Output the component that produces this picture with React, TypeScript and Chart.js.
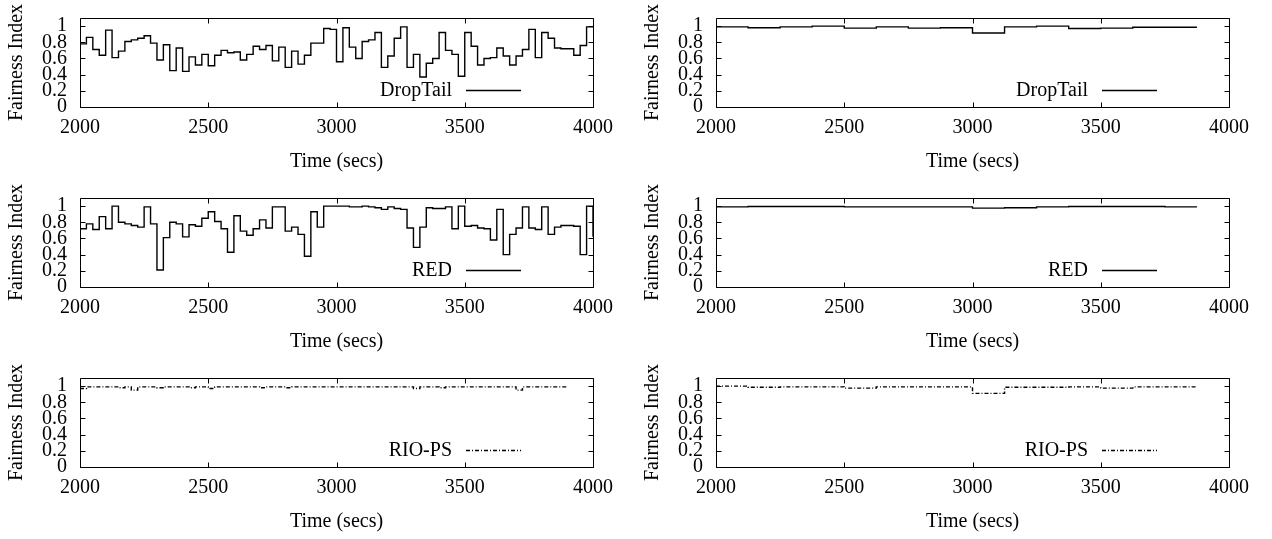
import React, { useEffect, useRef } from 'react';
import { Chart, registerables } from 'chart.js';

Chart.register(...registerables);

// ---- axes ----
const X_MIN = 2000;
const X_MAX = 4000;
const X_TICKS = [2000, 2500, 3000, 3500, 4000];
const Y_MIN = 0;
const Y_MAX = 1.1;
const Y_TICKS = [0, 0.2, 0.4, 0.6, 0.8, 1];
const X_TITLE = 'Time (secs)';
const Y_TITLE = 'Fairness Index';

// ---- sampling (seconds) ----
const LEFT_START = 2000;
const LEFT_STEP = 25;
const RIGHT_START = 2000;
const RIGHT_STEP = 125;

// ---- left column series (one value every 25 s) ----
const DROPTAIL_LEFT = [
  0.78, 0.86, 0.71, 0.64, 0.95, 0.61, 0.69, 0.81, 0.83, 0.85,
  0.88, 0.79, 0.58, 0.77, 0.45, 0.73, 0.44, 0.62, 0.52, 0.65,
  0.51, 0.64, 0.70, 0.67, 0.68, 0.58, 0.65, 0.75, 0.71, 0.76,
  0.57, 0.74, 0.49, 0.69, 0.53, 0.64, 0.79, 0.79, 0.97, 0.96,
  0.56, 0.98, 0.74, 0.60, 0.81, 0.83, 0.92, 0.49, 0.63, 0.85,
  0.99, 0.49, 0.65, 0.37, 0.54, 0.60, 0.92, 0.70, 0.65, 0.38,
  0.92, 0.75, 0.52, 0.60, 0.61, 0.73, 0.63, 0.52, 0.63, 0.71,
  0.96, 0.61, 0.92, 0.85, 0.73, 0.72, 0.72, 0.64, 0.76, 0.99,
  0.99,
];
const RED_LEFT = [
  0.72, 0.78, 0.71, 0.87, 0.72, 1.0, 0.80, 0.78, 0.76, 0.74,
  0.99, 0.78, 0.21, 0.61, 0.80, 0.78, 0.62, 0.77, 0.75, 0.85,
  0.93, 0.81, 0.72, 0.43, 0.88, 0.69, 0.64, 0.72, 0.83, 0.73,
  0.99, 0.99, 0.69, 0.74, 0.65, 0.38, 0.93, 0.74, 1.0, 1.0,
  1.0, 1.0, 0.99, 0.99, 1.0, 0.99, 0.98, 0.96, 0.99, 0.97,
  0.96, 0.73, 0.49, 0.74, 0.98, 0.97, 0.97, 0.99, 0.72, 1.0,
  0.75, 0.76, 0.73, 0.72, 0.58, 0.96, 0.40, 0.65, 0.73, 0.99,
  0.73, 0.71, 0.99, 0.65, 0.74, 0.76, 0.76, 0.75, 0.40, 1.0,
  0.62,
];
const RIOPS_LEFT = [
  0.97, 0.99, 0.99, 0.99, 0.99, 0.99, 0.98, 0.99, 0.95, 0.99,
  0.99, 0.99, 0.98, 0.99, 0.99, 0.99, 0.99, 0.98, 0.99, 0.99,
  0.97, 0.99, 0.99, 0.99, 0.99, 0.99, 0.99, 0.99, 0.98, 0.99,
  0.99, 0.99, 0.98, 0.99, 0.99, 0.99, 0.99, 0.99, 0.99, 0.99,
  0.99, 0.99, 0.99, 0.99, 0.99, 0.99, 0.99, 0.99, 0.99, 0.99,
  0.99, 0.99, 0.97, 0.99, 0.99, 0.99, 0.98, 0.99, 0.99, 0.99,
  0.99, 0.99, 0.99, 0.99, 0.99, 0.99, 0.99, 0.99, 0.95, 0.99,
  0.99, 0.99, 0.99, 0.99, 0.99, 0.99, 0.99,
];

// ---- right column series (one value every 125 s) ----
const DROPTAIL_RIGHT = [
  0.99, 0.98, 0.99, 1.0, 0.975, 0.99, 0.975, 0.98,
  0.915, 0.99, 1.0, 0.97, 0.975, 0.985, 0.985, 0.985,
];
const RED_RIGHT = [
  0.99, 0.995, 0.995, 0.995, 0.99, 0.99, 0.99, 0.99,
  0.975, 0.98, 0.99, 0.995, 0.995, 0.995, 0.99, 0.99,
];
const RIOPS_RIGHT = [
  1.0, 0.985, 0.99, 0.99, 0.975, 0.99, 0.99, 0.99,
  0.91, 0.985, 0.985, 0.99, 0.975, 0.99, 0.99, 0.99,
];

const SERIES_NAMES = ['DropTail', 'RED', 'RIO-PS'];

const FONT_FAMILY = '"Liberation Serif", "Times New Roman", serif';
const FONT_SIZE = 20;
const PANEL_W = 636;
const PANEL_H = 180;
const DASH_DOT = [4, 2, 1, 2];

type PanelDef = {
  name: string;
  values: number[];
  start: number;
  step: number;
  col: number;
  row: number;
  dash: number[];
};

const PANELS: PanelDef[] = [
  { name: SERIES_NAMES[0], values: DROPTAIL_LEFT, start: LEFT_START, step: LEFT_STEP, col: 0, row: 0, dash: [] },
  { name: SERIES_NAMES[0], values: DROPTAIL_RIGHT, start: RIGHT_START, step: RIGHT_STEP, col: 1, row: 0, dash: [] },
  { name: SERIES_NAMES[1], values: RED_LEFT, start: LEFT_START, step: LEFT_STEP, col: 0, row: 1, dash: [] },
  { name: SERIES_NAMES[1], values: RED_RIGHT, start: RIGHT_START, step: RIGHT_STEP, col: 1, row: 1, dash: [] },
  { name: SERIES_NAMES[2], values: RIOPS_LEFT, start: LEFT_START, step: LEFT_STEP, col: 0, row: 2, dash: DASH_DOT },
  { name: SERIES_NAMES[2], values: RIOPS_RIGHT, start: RIGHT_START, step: RIGHT_STEP, col: 1, row: 2, dash: DASH_DOT },
];

const gnuFrame = {
  id: 'gnuFrame',
  afterDatasetsDraw(chart: any) {
    const { ctx, chartArea: a, scales } = chart;
    const xs = scales.x;
    const ys = scales.y;
    const L = Math.round(a.left) + 0.5;
    const R = Math.round(a.right) + 0.5;
    const T = Math.round(a.top) + 0.5;
    const B = Math.round(a.bottom) + 0.5;
    const TL = 5;
    ctx.save();
    ctx.strokeStyle = '#000';
    ctx.lineWidth = 1;
    ctx.setLineDash([]);
    ctx.beginPath();
    ctx.rect(L, T, R - L, B - T);
    for (const v of X_TICKS) {
      const px = Math.round(xs.getPixelForValue(v)) + 0.5;
      ctx.moveTo(px, B);
      ctx.lineTo(px, B - TL);
      ctx.moveTo(px, T);
      ctx.lineTo(px, T + TL);
    }
    for (const v of Y_TICKS) {
      const py = Math.round(ys.getPixelForValue(v)) + 0.5;
      ctx.moveTo(L, py);
      ctx.lineTo(L + TL, py);
      ctx.moveTo(R, py);
      ctx.lineTo(R - TL, py);
    }
    ctx.stroke();

    // key (legend) inside the plot, gnuplot style
    const ds = chart.data.datasets[0];
    const ly = Math.round(a.top + 72) + 0.5;
    ctx.font = `${FONT_SIZE}px ${FONT_FAMILY}`;
    ctx.fillStyle = '#000';
    ctx.textAlign = 'right';
    ctx.textBaseline = 'middle';
    ctx.fillText(ds.label, a.right - 141, ly);
    ctx.lineWidth = ds.borderWidth;
    ctx.strokeStyle = ds.borderColor;
    ctx.setLineDash(ds.borderDash || []);
    ctx.beginPath();
    ctx.moveTo(a.right - 127, ly);
    ctx.lineTo(a.right - 72, ly);
    ctx.stroke();
    ctx.restore();
  },
};

function Panel({ def }: { def: PanelDef }) {
  const ref = useRef<HTMLCanvasElement | null>(null);
  useEffect(() => {
    if (!ref.current) return;
    const pts = def.values.map((v, i) => ({ x: def.start + i * def.step, y: v }));
    const font = { family: FONT_FAMILY, size: FONT_SIZE };
    const chart = new Chart(ref.current, {
      type: 'line',
      data: {
        datasets: [
          {
            label: def.name,
            data: pts,
            borderColor: '#000',
            borderWidth: 1.4,
            borderDash: def.dash,
            stepped: 'before',
            pointRadius: 0,
            fill: false,
            tension: 0,
          },
        ],
      },
      options: {
        animation: false,
        responsive: false,
        maintainAspectRatio: false,
        devicePixelRatio: 1,
        layout: { padding: { top: 18, right: 43, left: 0, bottom: 0 } },
        plugins: { legend: { display: false }, tooltip: { enabled: false } },
        events: [],
        scales: {
          x: {
            type: 'linear',
            min: X_MIN,
            max: X_MAX,
            grid: { display: false, drawTicks: false },
            border: { display: false },
            afterBuildTicks: (s: any) => {
              s.ticks = X_TICKS.map((v) => ({ value: v }));
            },
            afterFit: (s: any) => {
              s.height = 73;
            },
            ticks: {
              padding: 9,
              font,
              color: '#000',
              maxRotation: 0,
              minRotation: 0,
              autoSkip: false,
              callback: (v: any) => String(v),
            },
            title: {
              display: true,
              text: X_TITLE,
              font,
              color: '#000',
              padding: { top: 0, bottom: 6 },
            },
          },
          y: {
            type: 'linear',
            min: Y_MIN,
            max: Y_MAX,
            grid: { display: false, drawTicks: false },
            border: { display: false },
            afterBuildTicks: (s: any) => {
              s.ticks = Y_TICKS.map((v) => ({ value: v }));
            },
            afterFit: (s: any) => {
              s.width = 80;
              s.paddingTop = 0;
              s.paddingBottom = 0;
            },
            ticks: {
              padding: 13,
              font,
              color: '#000',
              autoSkip: false,
              callback: (v: any) => String(Number(Number(v).toFixed(1))),
            },
            title: {
              display: true,
              text: Y_TITLE,
              font,
              color: '#000',
              padding: { top: 5, bottom: 0 },
            },
          },
        },
      } as any,
      plugins: [gnuFrame],
    });
    return () => chart.destroy();
  }, [def]);
  return (
    <canvas
      ref={ref}
      width={PANEL_W}
      height={PANEL_H}
      style={{
        position: 'absolute',
        left: def.col * PANEL_W,
        top: def.row * PANEL_H,
        width: PANEL_W,
        height: PANEL_H,
      }}
    />
  );
}

export default function App() {
  return (
    <div
      style={{
        position: 'absolute',
        left: 0,
        top: 0,
        width: 1272,
        height: 539,
        overflow: 'hidden',
        background: '#fff',
      }}
    >
      {PANELS.map((p, i) => (
        <Panel key={i} def={p} />
      ))}
    </div>
  );
}
